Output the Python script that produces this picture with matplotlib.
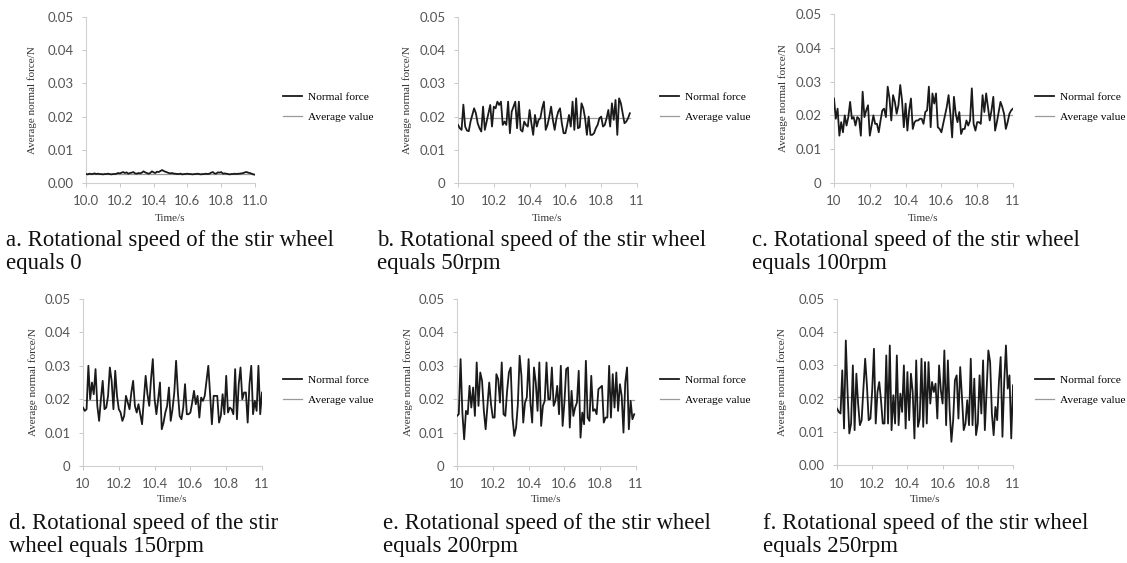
import numpy as np
import matplotlib
matplotlib.use('Agg')
import matplotlib.pyplot as plt

# -----------------------------------------------------------------------------
# data (time step 0.01 s)
# -----------------------------------------------------------------------------
force_a = [0.0027, 0.0026, 0.0028, 0.0027, 0.0027, 0.0029, 0.0027, 0.0028, 0.0027, 0.0027,
           0.0026, 0.0027, 0.0027, 0.0028, 0.0027, 0.0026, 0.0027, 0.0027, 0.0028, 0.0030,
           0.0029, 0.0031, 0.0033, 0.0030, 0.0032, 0.0028, 0.0030, 0.0031, 0.0033, 0.0029,
           0.0028, 0.0030, 0.0029, 0.0031, 0.0035, 0.0032, 0.0030, 0.0028, 0.0030, 0.0035,
           0.0032, 0.0030, 0.0034, 0.0033, 0.0036, 0.0039, 0.0036, 0.0034, 0.0032, 0.0030,
           0.0029, 0.0030, 0.0028, 0.0028, 0.0027, 0.0027, 0.0028, 0.0026, 0.0027, 0.0027,
           0.0028, 0.0027, 0.0027, 0.0026, 0.0027, 0.0027, 0.0028, 0.0027, 0.0026, 0.0027,
           0.0027, 0.0028, 0.0027, 0.0028, 0.0031, 0.0033, 0.0029, 0.0028, 0.0032, 0.0031,
           0.0033, 0.0028, 0.0029, 0.0028, 0.0027, 0.0026, 0.0027, 0.0027, 0.0028, 0.0027,
           0.0028, 0.0028, 0.0029, 0.0030, 0.0032, 0.0033, 0.0031, 0.0030, 0.0028, 0.0026,
           0.0025]
force_b = [0.0175, 0.0165, 0.0160, 0.0236, 0.0170, 0.0158, 0.0156, 0.0185, 0.0205, 0.0225,
           0.0210, 0.0180, 0.0165, 0.0155, 0.0230, 0.0160, 0.0185, 0.0210, 0.0235, 0.0170,
           0.0230, 0.0225, 0.0245, 0.0235, 0.0245, 0.0175, 0.0185, 0.0175, 0.0245, 0.0150,
           0.0215, 0.0230, 0.0245, 0.0165, 0.0245, 0.0160, 0.0155, 0.0185, 0.0175, 0.0170,
           0.0220, 0.0180, 0.0145, 0.0205, 0.0170, 0.0190, 0.0195, 0.0225, 0.0245, 0.0160,
           0.0175, 0.0200, 0.0230, 0.0190, 0.0160, 0.0195, 0.0215, 0.0225, 0.0180, 0.0150,
           0.0150, 0.0175, 0.0205, 0.0170, 0.0245, 0.0160, 0.0255, 0.0165, 0.0168, 0.0240,
           0.0225, 0.0195, 0.0145, 0.0200, 0.0145, 0.0145, 0.0150, 0.0165, 0.0175, 0.0195,
           0.0200, 0.0170, 0.0175, 0.0195, 0.0220, 0.0170, 0.0240, 0.0190, 0.0250, 0.0145,
           0.0255, 0.0240, 0.0210, 0.0180, 0.0185, 0.0195, 0.0210]
force_c = [0.0250, 0.0190, 0.0220, 0.0140, 0.0180, 0.0150, 0.0200, 0.0170, 0.0195, 0.0240,
           0.0190, 0.0195, 0.0170, 0.0195, 0.0190, 0.0140, 0.0270, 0.0195, 0.0215, 0.0230,
           0.0140, 0.0170, 0.0200, 0.0175, 0.0175, 0.0150, 0.0185, 0.0215, 0.0220, 0.0195,
           0.0285, 0.0250, 0.0185, 0.0260, 0.0240, 0.0205, 0.0230, 0.0290, 0.0245, 0.0165,
           0.0235, 0.0155, 0.0215, 0.0250, 0.0160, 0.0180, 0.0185, 0.0185, 0.0190, 0.0190,
           0.0175, 0.0210, 0.0215, 0.0285, 0.0165, 0.0265, 0.0235, 0.0265, 0.0165, 0.0160,
           0.0150, 0.0175, 0.0200, 0.0225, 0.0260, 0.0205, 0.0135, 0.0255, 0.0205, 0.0180,
           0.0210, 0.0145, 0.0160, 0.0160, 0.0185, 0.0170, 0.0185, 0.0280, 0.0175, 0.0155,
           0.0180, 0.0180, 0.0175, 0.0260, 0.0210, 0.0265, 0.0225, 0.0185, 0.0215, 0.0255,
           0.0155, 0.0180, 0.0210, 0.0240, 0.0225, 0.0205, 0.0160, 0.0180, 0.0205, 0.0215,
           0.0220]
force_d = [0.0175, 0.0165, 0.0170, 0.0300, 0.0200, 0.0250, 0.0215, 0.0290, 0.0180, 0.0135,
           0.0200, 0.0255, 0.0170, 0.0175, 0.0210, 0.0295, 0.0255, 0.0170, 0.0285, 0.0210,
           0.0170, 0.0160, 0.0135, 0.0150, 0.0210, 0.0190, 0.0170, 0.0220, 0.0255, 0.0180,
           0.0160, 0.0185, 0.0155, 0.0125, 0.0200, 0.0270, 0.0215, 0.0180, 0.0260, 0.0320,
           0.0200, 0.0155, 0.0200, 0.0250, 0.0110, 0.0130, 0.0160, 0.0180, 0.0235, 0.0135,
           0.0170, 0.0220, 0.0315, 0.0220, 0.0150, 0.0140, 0.0175, 0.0245, 0.0155, 0.0155,
           0.0160, 0.0190, 0.0225, 0.0185, 0.0210, 0.0145, 0.0205, 0.0195, 0.0210, 0.0255,
           0.0300, 0.0215, 0.0125, 0.0210, 0.0210, 0.0210, 0.0130, 0.0150, 0.0215, 0.0155,
           0.0270, 0.0160, 0.0175, 0.0170, 0.0155, 0.0290, 0.0140, 0.0245, 0.0295, 0.0200,
           0.0220, 0.0220, 0.0130, 0.0245, 0.0300, 0.0155, 0.0195, 0.0165, 0.0300, 0.0155,
           0.0220]
force_e = [0.0150, 0.0155, 0.0320, 0.0160, 0.0080, 0.0165, 0.0155, 0.0240, 0.0175, 0.0235,
           0.0150, 0.0310, 0.0180, 0.0280, 0.0255, 0.0165, 0.0110, 0.0180, 0.0250, 0.0185,
           0.0145, 0.0145, 0.0275, 0.0260, 0.0190, 0.0310, 0.0155, 0.0150, 0.0225, 0.0280,
           0.0295, 0.0145, 0.0090, 0.0115, 0.0185, 0.0330, 0.0270, 0.0130, 0.0190, 0.0205,
           0.0320, 0.0190, 0.0130, 0.0295, 0.0250, 0.0165, 0.0310, 0.0120, 0.0180, 0.0195,
           0.0310, 0.0200, 0.0200, 0.0295, 0.0180, 0.0195, 0.0240, 0.0155, 0.0300, 0.0120,
           0.0190, 0.0290, 0.0295, 0.0115, 0.0225, 0.0150, 0.0175, 0.0190, 0.0285, 0.0085,
           0.0160, 0.0125, 0.0315, 0.0145, 0.0135, 0.0270, 0.0165, 0.0170, 0.0155, 0.0230,
           0.0235, 0.0240, 0.0130, 0.0145, 0.0145, 0.0300, 0.0145, 0.0275, 0.0175, 0.0280,
           0.0165, 0.0245, 0.0210, 0.0100, 0.0250, 0.0295, 0.0110, 0.0195, 0.0140, 0.0155]
force_f = [0.0170, 0.0160, 0.0155, 0.0285, 0.0110, 0.0375, 0.0220, 0.0095, 0.0125, 0.0300,
           0.0105, 0.0275, 0.0185, 0.0120, 0.0135, 0.0230, 0.0320, 0.0240, 0.0135, 0.0140,
           0.0225, 0.0350, 0.0125, 0.0220, 0.0250, 0.0195, 0.0125, 0.0125, 0.0330, 0.0125,
           0.0360, 0.0105, 0.0210, 0.0125, 0.0330, 0.0120, 0.0215, 0.0160, 0.0300, 0.0110,
           0.0280, 0.0135, 0.0275, 0.0220, 0.0080, 0.0315, 0.0115, 0.0140, 0.0320, 0.0115,
           0.0310, 0.0125, 0.0310, 0.0185, 0.0250, 0.0220, 0.0245, 0.0140, 0.0300, 0.0225,
           0.0185, 0.0345, 0.0120, 0.0315, 0.0165, 0.0070, 0.0135, 0.0255, 0.0270, 0.0140,
           0.0295, 0.0205, 0.0105, 0.0125, 0.0195, 0.0120, 0.0320, 0.0120, 0.0260, 0.0090,
           0.0125, 0.0270, 0.0155, 0.0315, 0.0105, 0.0225, 0.0345, 0.0310, 0.0155, 0.0090,
           0.0175, 0.0135, 0.0250, 0.0325, 0.0085, 0.0250, 0.0360, 0.0230, 0.0270, 0.0080,
           0.0240]

avg_values = [0.0027, 0.0197, 0.0200, 0.0198, 0.0198, 0.0205]
t_start = 10.0
t_step = 0.01

x_ticks = [10.0, 10.2, 10.4, 10.6, 10.8, 11.0]
y_ticks = [0.0, 0.01, 0.02, 0.03, 0.04, 0.05]
x_labels_dec = ['10.0', '10.2', '10.4', '10.6', '10.8', '11.0']
x_labels_int = ['10', '10.2', '10.4', '10.6', '10.8', '11']
y_labels_dec = ['0.00', '0.01', '0.02', '0.03', '0.04', '0.05']
y_labels_int = ['0', '0.01', '0.02', '0.03', '0.04', '0.05']

captions = [
    'a. Rotational speed of the stir wheel\nequals 0',
    'b. Rotational speed of the stir wheel\nequals 50rpm',
    'c. Rotational speed of the stir wheel\nequals 100rpm',
    'd. Rotational speed of the stir\nwheel equals 150rpm',
    'e. Rotational speed of the stir wheel\nequals 200rpm',
    'f. Rotational speed of the stir wheel\nequals 250rpm',
]
series_names = ['Normal force', 'Average value']

# -----------------------------------------------------------------------------
# layout in pixels of the 1127x563 picture
# -----------------------------------------------------------------------------
W, H = 1127, 563
# (left, right, top, bottom) of each plot area
boxes = [(86, 255, 17, 183), (458, 637, 17, 183), (834, 1013, 14, 183),
         (83, 262, 299, 466), (457, 636, 299, 466), (837, 1013, 299, 465)]
ylabel_x = [32, 407, 783, 33, 408, 782]
legend_xy = [(283, 107), (660, 107), (1035, 107), (283, 390), (660, 390), (1035, 390)]
caption_xy = [(6, 230), (377, 230), (752, 230), (9, 513), (383, 513), (763, 513)]

SERIF = ['Liberation Serif', 'DejaVu Serif']
SANS = ['Lato', 'DejaVu Sans']

forces = [force_a, force_b, force_c, force_d, force_e, force_f]
x_lab_sets = [x_labels_dec] + [x_labels_int] * 5
y_lab_sets = [y_labels_dec] + [y_labels_int] * 4 + [y_labels_dec]

fig = plt.figure(figsize=(W / 100, H / 100), dpi=100)

for i, vals in enumerate(forces):
    l, r, t, b = boxes[i]
    ax = fig.add_axes([l / W, 1 - b / H, (r - l) / W, (b - t) / H])
    vals = np.array(vals)
    tt = t_start + t_step * np.arange(len(vals))
    ax.plot(tt, vals, color='#1a1a1a', lw=1.3, label=series_names[0], zorder=3)
    ax.plot([t_start, tt[-1]], [avg_values[i], avg_values[i]], color='#9a9a9a',
            lw=0.9, label=series_names[1], zorder=2)

    ax.set_xlim(10, 11)
    ax.set_ylim(0, 0.05)
    ax.set_xticks(x_ticks)
    ax.set_xticklabels(x_lab_sets[i])
    ax.set_yticks(y_ticks)
    ax.set_yticklabels(y_lab_sets[i])
    for s in ['top', 'right']:
        ax.spines[s].set_visible(False)
    for s in ['left', 'bottom']:
        ax.spines[s].set_color('#d0d0d0')
        ax.spines[s].set_linewidth(0.8)
    ax.tick_params(axis='both', colors='#c8c8c8', labelcolor='#555555',
                   labelsize=9.5, length=3, width=0.7)
    ax.tick_params(axis='y', pad=6)
    ax.tick_params(axis='x', pad=6)
    for lab in ax.get_xticklabels() + ax.get_yticklabels():
        lab.set_family(SANS)
    ax.patch.set_alpha(0)

    ax.set_xlabel('Time/s', family=SERIF, fontsize=8, color='#333333')
    ax.xaxis.label.set_va('center')
    ax.xaxis.set_label_coords(0.5, -(36 if i < 3 else 34) / (b - t))
    ax.set_ylabel('Average normal force/N', family=SERIF, fontsize=8, color='#333333')
    ax.yaxis.label.set(va='center', ha='center')
    ax.yaxis.set_label_coords((ylabel_x[i] - l) / (r - l), 0.5)

    lx, ly = legend_xy[i]
    ax.legend(loc='center left', bbox_to_anchor=(lx / W, 1 - ly / H),
              bbox_transform=fig.transFigure, frameon=False, borderpad=0,
              borderaxespad=0, handlelength=1.7, handletextpad=0.5,
              labelspacing=0.95, prop={'family': SERIF, 'size': 8.2})

    cx, cy = caption_xy[i]
    fig.text(cx / W, 1 - cy / H, captions[i], family=SERIF, fontsize=16.4,
             color='#111111', ha='left', va='top', linespacing=1.15)

fig.savefig('out.png', dpi=100)
